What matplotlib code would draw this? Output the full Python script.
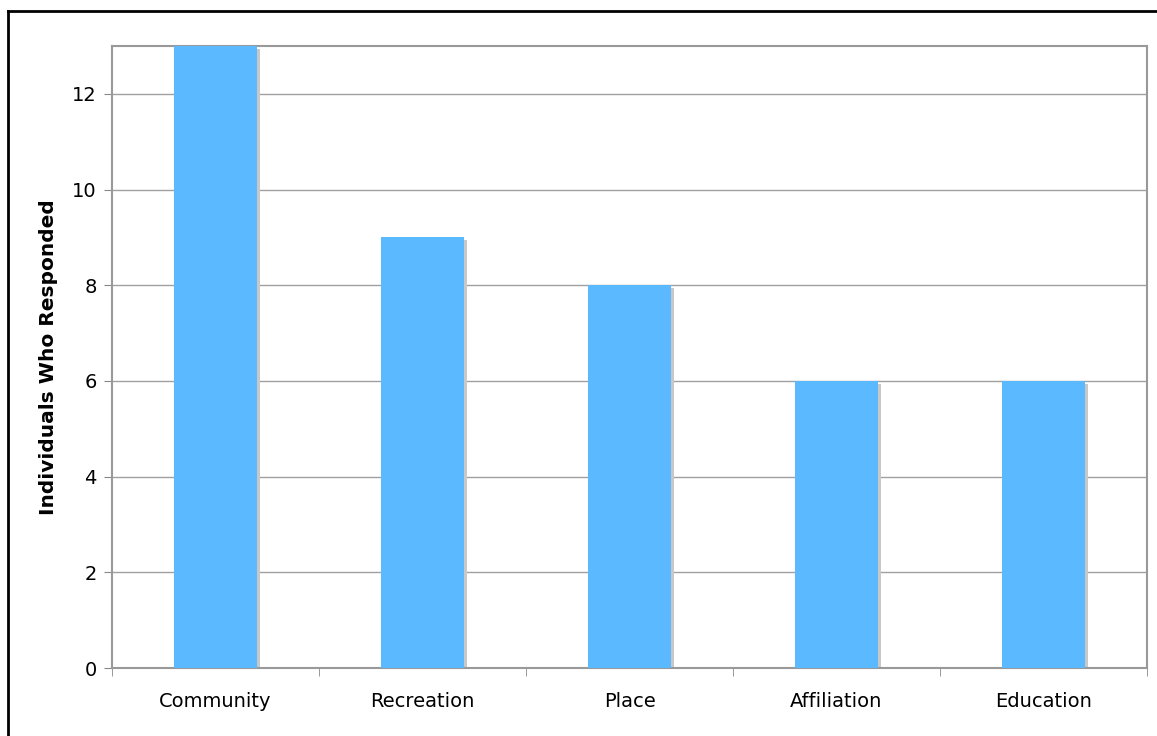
import matplotlib.pyplot as plt
import matplotlib.transforms as mtransforms
from matplotlib.lines import Line2D
import numpy as np

categories = ['Community', 'Recreation', 'Place', 'Affiliation', 'Education']
responses = [13, 9, 8, 6, 6]

fig = plt.figure(figsize=(11.57, 7.36), dpi=100)
ax = fig.add_axes([112 / 1157, 68 / 736, 1035 / 1157, 622 / 736])

x = np.arange(len(categories))

# drop shadow behind each bar
shadow = mtransforms.offset_copy(ax.transData, fig=fig, x=3, y=-3, units='dots')
ax.bar(x, responses, width=0.4, color='#c8c8c8', transform=shadow, zorder=2)
ax.bar(x, responses, width=0.4, color='#5ab9ff', zorder=3)

ax.set_xlim(-0.5, len(categories) - 0.5)
ax.set_ylim(0, 13)
ax.set_yticks(range(0, 13, 2))
ax.grid(axis='y', color='#a0a0a0', linewidth=1, zorder=1)
ax.set_axisbelow(True)

ax.set_xticks(x)
ax.set_xticklabels(categories, fontsize=14)
ax.tick_params(axis='x', length=0, pad=17)
ax.set_xticks(np.arange(-0.5, len(categories), 1), minor=True)
ax.tick_params(axis='x', which='minor', length=6, color='#888888', direction='out')
ax.tick_params(axis='y', length=6, color='#888888', labelsize=14, pad=5)

for s in ax.spines.values():
    s.set_color('#999999')
    s.set_linewidth(1.5)

ax.set_ylabel('Individuals Who Responded', fontsize=14.5, fontweight='bold', labelpad=10)

# outer frame (left and top edges visible)
fig.add_artist(Line2D([8 / 1157, 8 / 1157], [0, 1 - 11 / 736], color='black', lw=2, transform=fig.transFigure))
fig.add_artist(Line2D([8 / 1157, 1], [1 - 11 / 736, 1 - 11 / 736], color='black', lw=2, transform=fig.transFigure))

fig.savefig('out.png', dpi=100)
